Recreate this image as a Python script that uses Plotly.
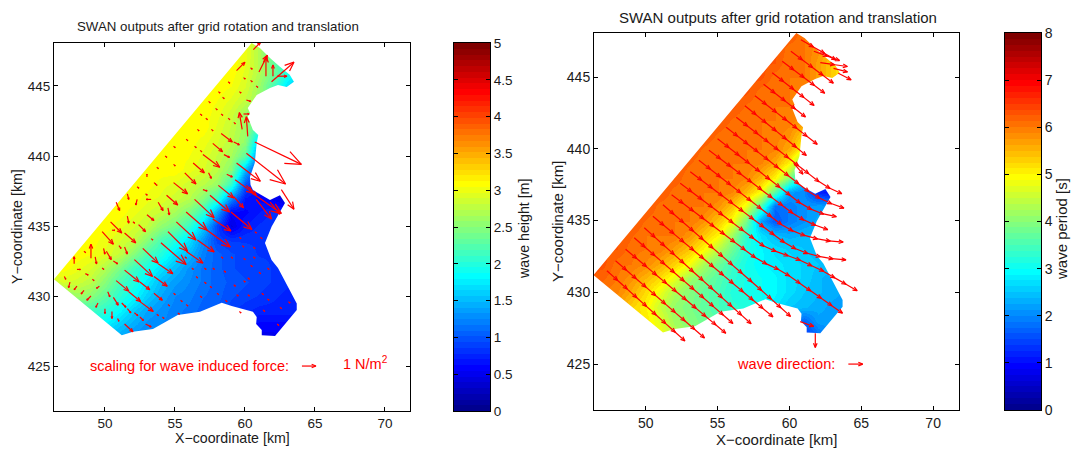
import math
import plotly.graph_objects as go

FONT = "Liberation Sans"
W, H_PX = 1073, 450

GRID_X = list(range(46, 67))
GRID_Y = list(range(448, 426, -1))

# Significant wave height [m], rows y=448..427, columns x=46..66
WAVE_HEIGHT = [
    [3.1]*14 + [3.0,2.7,2.2,2.2,2.2,2.2,2.2],
    [3.1]*14 + [3.0,2.7,2.3,2.0,2.0,2.0,2.0],
    [3.1]*14 + [2.95,2.7,2.4,2.0,1.8,1.8,1.8],
    [3.1]*13 + [3.05,2.9,2.6,2.2,1.7,1.4,1.4,1.4],
    [3.1]*12 + [3.05,2.95,2.8,2.6,2.2,1.8,1.6,1.6,1.6],
    [3.1]*12 + [3.0,2.85,2.6,2.2,1.8,1.6,1.5,1.5,1.5],
    [3.1]*12 + [2.95,2.8,2.6,2.1,1.5,1.2,1.2,1.2,1.2],
    [3.1]*11 + [3.0,2.9,2.75,2.55,1.6,1.0,0.9,0.9,0.9,0.9],
    [3.1]*10 + [3.05,2.95,2.8,2.65,2.3,1.1,0.8,0.7,0.7,0.7,0.7],
    [3.1]*10 + [3.0,2.9,2.75,2.5,1.5,0.7,0.6,0.6,0.6,0.6,0.6],
    [3.1]*8 + [3.0,2.95,2.85,2.75,2.6,2.1,1.0,0.6,0.6,0.5,0.5,0.5,0.5],
    [3.1]*7 + [3.0,2.95,2.85,2.75,2.5,2.1,1.3,0.7,0.6,0.5,0.4,0.4,0.4,0.4],
    [3.1]*6 + [3.0,2.9,2.8,2.65,2.45,2.1,1.4,0.6,0.6,0.7,0.8,0.7,0.7,0.7,0.7],
    [3.1]*5 + [3.0,2.9,2.8,2.55,2.4,2.1,1.6,0.9,0.45,0.7,0.8,0.85,0.85,0.85,0.85,0.85],
    [3.1]*4 + [3.0,2.9,2.8,2.5,2.2,2.0,1.7,1.3,0.9,0.85,0.85,0.85,0.85,0.85,0.85,0.85,0.85],
    [3.1]*3 + [3.05,2.95,2.8,2.5,2.2,2.0,1.7,1.5,1.2,1.05,0.95,0.9,0.85,0.85,0.8,0.8,0.8,0.8],
    [3.1]*2 + [3.0,2.9,2.7,2.45,2.15,1.95,1.7,1.5,1.3,1.15,1.05,0.95,0.9,0.9,0.85,0.8,0.8,0.8,0.8],
    [2.8,2.9,2.85,2.75,2.5,2.2,2,1.75,1.5,1.35,1.25,1.15,1.05,1.0,0.95,0.9,0.85,0.8,0.8,0.8,0.8],
    [2.5,2.5,2.6,2.5,2.3,2.05,1.85,1.6,1.4,1.25,1.2,1.1,1.05,0.95,0.9,0.85,0.8,0.75,0.75,0.75,0.75],
    [2.1,2.1,2.1,2.15,2.05,1.85,1.6,1.4,1.3,1.2,1.15,1.05,1,0.9,0.8,0.75,0.75,0.75,0.75,0.75,0.75],
    [1.8,1.8,1.8,1.8,1.8,1.6,1.45,1.3,1.25,1.2,1.1,1.0,0.95,0.8,0.65,0.6,0.6,0.6,0.6,0.6,0.6],
    [1.4]*6 + [1.25,1.2,1.15,1.1,1.05,1,0.9,0.8,0.6,0.5,0.5,0.6,0.6,0.6,0.6],
]

# Wave period [s], same grid
WAVE_PERIOD = [
    [6.3]*14 + [6.3,6.0,5.9,5.9,5.9,5.9,5.9],
    [6.3]*13 + [6.3,6.05,6.0,5.8,5.5,5.3,5.3,5.3],
    [6.3]*13 + [6.25,6.0,6.0,5.7,5.3,5.1,5.1,5.1],
    [6.3]*12 + [6.3,6.05,6.0,6,5.7,5.3,5,5,5],
    [6.3]*11 + [6.3,6.05,6.0,6.0,5.9,5.7,5.7,5.7,5.7,5.7],
    [6.3]*10 + [6.3,6.1,6.0,6.0,6,5.8,5.8,5.8,5.8,5.8,5.8],
    [6.3]*9 + [6.3,6.1,6.0,6.0,6,5.95,5.8,5.8,5.8,5.8,5.8,5.8],
    [6.3]*8 + [6.3,6.1,6.0,6.0,6.0,5.95,5.8,5.3,4.8,4.8,4.8,4.8,4.8],
    [6.3]*7 + [6.3,6.1,6.0,6.0,6.0,6,5.9,5.6,4.9,4.3,4.3,4.3,4.3,4.3],
    [6.3]*7 + [6.15,6.0,6.0,6.0,6,5.9,5.6,5,3.8,3,3,3,3,3],
    [6.3]*6 + [6.25,6.0,6.0,6.0,6,5.9,5.5,5,4,2.5,2.2,1.5,1.2,1.2,1.2],
    [6.3]*5 + [6.3,6.05,6.0,6.0,6,5.9,5.5,4.9,3.6,2.2,2,1.2,1.0,1.0,1.0,1.0],
    [6.3]*4 + [6.3,6.05,6.0,6.0,6,5.8,5.4,4.8,3.5,1.8,1.9,2.1,2.2,2.2,2.2,2.2,2.2],
    [6.3]*3 + [6.3,6.1,6.0,6.0,6,5.8,5.4,4.9,3.9,2.2,1.6,1.9,2.1,2.3,2.3,2.3,2.3,2.3],
    [6.3]*3 + [6.15,6.0,6.0,6,5.8,5.4,5,4.2,3.3,2.7,2.4,2.3,2.4,2.4,2.4,2.4,2.4,2.4],
    [6.3]*2 + [6.25,6.05,6.0,5.95,5.7,5.4,5,4.4,3.8,3.2,2.9,2.7,2.6,2.5,2.4,2.4,2.4,2.4,2.4],
    [6.3,6.3,6.05,6,5.85,5.6,5.3,4.9,4.3,3.8,3.4,3.1,2.9,2.8,2.7,2.6,2.5,2.4,2.4,2.4,2.4],
    [6.3,6.15,6.0,5.8,5.5,5.2,4.8,4.2,3.9,3.6,3.3,3.1,3,2.9,2.7,2.6,2.4,2.3,2.3,2.3,2.3],
    [6,6,5.9,5.6,5.2,4.8,4.3,4,3.7,3.5,3.2,3.1,3,2.9,2.7,2.5,2.4,2.3,2.2,2.2,2.2],
    [5.7,5.7,5.7,5.3,5,4.5,4.1,3.9,3.7,3.5,3.3,3.2,3,2.8,2.5,2.4,2.3,2.2,2.2,2.2,2.2],
    [5.2,5.2,5.2,5.2,5.1,4.7,4.2,4,3.8,3.6,3.4,3.2,3,2.7,2.3,1.7,2.2,2.2,2.2,2.2,2.2],
    [5,5,5,5,5,4.9,4.4,4.1,3.9,3.7,3.4,3.2,3,2.7,2.2,1.3,1.8,2.2,2.2,2.2,2.2],
]

# Model domain outline, from the north corner clockwise round the coast to the west corner
COAST_X = [60.48,61.07,61.79,62.5,63.2,63.5,62.98,62.36,61.79,60.84,60.2,60.36,60.2,60.57,60.95,60.84,60.7,60.36,60.4,60.57,61.79,62.5,62.86,61.9,61.43,61.9,62.36,63.07,63.7,63.7,62.15,61.2,61.2,60.8,60.84,60.57,59.05,58.34,56.79,55.2,53.43,52.0,51.2,46.36]
COAST_Y = [448.07,447.71,447.0,446.38,445.8,445.3,444.93,445.07,444.86,444.36,443.43,443.07,442.8,441.86,441.5,440.93,439.5,438.5,437.93,437.57,436.86,437.2,436.64,434.95,433.78,432.57,432.0,430.66,429.47,429.0,427.14,427.2,427.57,428.0,428.5,428.88,429.28,429.52,428.88,428.64,427.64,427.45,427.2,431.2]

# Wave induced force arrows: tail x, tail y, u, v
FORCE = [
 (60.7,441.0,3.33,-1.6),(60.1,440.2,2.8,-2.2),(59.4,439.5,1.7,-1.3),(61.9,445.3,1.6,1.4),(62.3,445.7,0.7,0),
 (61,446,0.6,1.2),(61.5,445.7,0,1.4),(62,445.7,0,0.8),(59.4,446.1,0.6,0.6),(60.6,447.6,0.5,0.5),
 (59.8,441.9,-0.2,1.2),(60.2,441.4,-0.1,1.4),(59.9,443,0.4,0),(60.1,444,0.3,-0.1),(58.3,441.6,0.8,-0.6),
 (59.2,441,0.4,-0.2),(57.7,440.9,0.7,-0.6),(57,440.1,1.2,-0.9),(58.5,440.1,0.4,-0.2),(56.3,439.5,0.8,-0.7),
 (57.4,438.8,0.2,-0.4),(55.7,438.8,0.8,-0.8),(58.7,438.7,0.4,-0.2),(53,438.5,0,0.2),(54.9,438.1,1,-0.8),
 (58.1,437.9,1.1,-0.9),(57,437.6,0.3,-0.1),(54.4,437.2,0.8,-0.7),(51.6,437.3,0.1,-0.4),(52.3,436.9,-0.1,-0.4),
 (50.8,436.7,0.25,-0.6),(53.3,436.9,-0.35,0),(53.8,436.7,0.35,-0.6),(54.5,436.3,0.1,-0.5),(53,435.8,0.5,-0.4),
 (51.6,435.7,0.1,-0.5),(52.4,435.1,0.5,-0.5),(50.4,435.3,0.8,-0.8),(50.5,434.7,0.2,0),(49.8,434.6,0.8,-0.9),
 (51.4,434.5,0.8,-0.7),(51,433.6,0.15,-0.2),(49,432.7,0,1),(47.8,432.3,0,0.5),(49.3,432.8,0.1,-0.5),
 (49.9,433.4,0.1,-0.4),(50.1,433.2,0.35,-0.6),(51.4,433.5,0.2,-0.5),(50.6,432.5,0.3,-0.2),(48,431.9,0.25,0),
 (47.1,431.4,0.1,-0.2),(48.6,431.6,0.2,-0.1),(47.5,431,-0.1,-0.4),(48,430.7,-0.2,-0.25),(48.5,430.4,-0.2,-0.25),
 (49.6,430.7,-0.2,-0.15),(49,430,-0.3,-0.3),(49.5,429.5,-0.15,-0.3),(50.2,430.3,0.15,-0.35),(50.6,429.9,0.35,-0.55),
 (50,429.1,0,-0.35),(50.5,428.9,0,-0.5),(51.2,429.5,0.3,-0.3),(51.6,429.1,0.25,-0.3),(52.1,428.8,0.25,-0.2),
 (52.5,428.5,0.25,-0.25),(50.9,428.4,0.1,-0.2),(51.4,428,0.6,-0.55),(52.9,428,0.4,-0.2),
 (50.8,431.1,0.9,-0.75),(51.7,430.3,0.85,-0.7),(52.5,429.6,0.95,-0.7),(51.4,431.85,1.05,-0.85),(52.5,431,0.7,-0.55),
 (53.5,430.2,0.6,-0.5),(52.1,432.6,1.3,-1.2),(53.5,431.4,0.95,-0.7),(52.7,433.4,1.1,-1.05),(53.8,432.3,1.05,-0.7),
 (54,433.8,1.8,-1.55),(54.5,434.6,1.4,-1.4),(55.8,433.2,1.2,-0.85),(55.1,435.3,1.4,-1.3),(56.6,434,1.2,-0.85),
 (55.8,436,1.5,-1.3),(57.3,434.7,1.65,-1.2),(56.4,436.9,1.4,-1.3),(57.7,435.5,1.3,-0.85),(57.5,437.2,1.4,-1.2),
 (59,436,1.5,-1.25),(59.3,438.3,1.3,-0.95),(60.6,437.3,2,-1.4),(59.2,437.1,0.7,-0.8),(60.8,436.9,1.1,-1.4),
 (62.6,437.6,0.9,-1.4),(61.8,436.7,0.7,-0.85),(60.1,437.9,0.7,-0.7),
 (64.07,425.0,1.0,0),
]
# Very small force arrows: tail positions
TINY_X = [60.4,59.9,60.4,60.8,58.8,59.6,58.1,58.4,57.4,57.9,56.8,57.2,58.3,58.8,59.2,56.6,57.6,55.8,56.4,54.9,54.3,56.8,53.7,54.9,53.6,52.3,53.5,52.9,52,53.3,48.5,49.8,49.1,55.7,56.2,57.1,57.7,58.5,58.3,59.9,60.6,60.6,59.6,60.7,61.1,56.5,57.1,57.5,58,58.6,54.9,55.4,55.8,54.5,55.2,53.7,54.1,56.8,59.2,59.9,60.2,61,60.4,61.6,59.4,60.2,61.2,61.6,62.5,63.1,59.6,61.3,62.3,59.8,59]
TINY_Y = [446.3,445.6,445.4,445,445.3,444.6,444.6,444.2,443.9,443.4,443,442.7,443,442.7,442.4,441.9,441.9,441.2,440.7,440.7,440,440.4,439.2,439.4,438,437.8,438.1,437.3,435.3,434.1,433.2,432,431.2,432.8,432,432,432,431.8,432.8,432.7,432.8,433.5,434.2,434.6,434.2,431.4,431,430.7,430.2,429.7,430.2,429.7,429.4,429.4,428.8,428.7,428.5,430,430.8,431.1,431.3,431.7,432.2,432,430.1,430.1,430.2,429.8,429.2,429.6,428.9,429,428,433.6,432.8]
TINY_U, TINY_V = 0.12, -0.1

# Wave direction rows: start of each row and the direction (degrees) of its successive arrows
DIR_X0 = [60.8,60.1,59.5,58.8,58.2,57.6,56.9,56.3,55.6,55.0,54.4,53.7,53.1,52.4,51.8,51.2,50.5,49.9,49.2,48.6,47.9,47.3, 61.7,62.15,63.07,63.4,60.3,61.8,60.75,64.1]
DIR_Y0 = [447.6,446.8,446.1,445.3,444.5,443.7,443.0,442.2,441.5,440.7,439.9,439.2,438.4,437.6,436.8,436.1,435.3,434.5,433.8,433.0,432.2,431.5, 446.8,446.0,445.6,445.26,439.0,427.15,427.96,425.0]
DIR_ANGLES = [
 [-30,-30,-30],
 [-37,-37,-37,-37],
 [-37,-37,-37,-37],
 [-38,-38,-38,-38],
 [-38,-38,-38,-38],
 [-38,-38,-38,-38,-38,-38],
 [-39,-39,-39,-39,-39,-39],
 [-38,-38,-38,-38,-38,-38,-38,-38,-32,-25],
 [-38,-38,-38,-38,-38,-38,-38,-38,-32,-25,-20],
 [-38,-38,-38,-38,-38,-38,-38,-38,-30,-22,-12],
 [-37,-37,-37,-37,-37,-37,-37,-37,-32,-25,-20],
 [-38,-38,-38,-38,-38,-38,-38,-38,-30,-22,-15,-10,-5],
 [-37,-37,-37,-37,-37,-37,-37,-37,-37,-30,-22,-15,-10,-5],
 [-37,-37,-37,-37,-37,-37,-37,-37,-25,-20,-20,-25,-25,-30,-30,-30],
 [-37,-37,-37,-37,-37,-37,-37,-37,-30,-25,-30,-35,-35,-35,-35,-35],
 [-41,-41,-41,-41,-41,-41,-41,-41,-41,-41,-42,-42,-42],
 [-40,-40,-40,-40,-40,-40,-40,-40,-40,-40,-40,-40],
 [-42,-42,-42,-42,-42,-42,-42,-42,-42,-42,-42],
 [-41,-41,-41,-41,-41,-41,-41,-41,-41,-41],
 [-40,-40,-40,-40,-40,-40,-40,-40,-40,-40],
 [-41,-41,-41,-41,-41,-41,-41,-41,-41],
 [-42,-42,-42,-42,-42,-42,-42,-42],
 [-20,-20],
 [-8,-8],
 [-14],
 [-27],
 [-50],
 [-90],
 [-20],
 [0],
]
DIR_STEP = 0.9
DIR_LEN = 1.0

TITLE = "SWAN outputs after grid rotation and translation"
X_TITLE = "X\u2212coordinate [km]"
Y_TITLE = "Y\u2212coordinate [km]"
X_TICKS = [50, 55, 60, 65, 70]
Y_TICKS = [425, 430, 435, 440, 445]
H_TICKS = [0, 0.5, 1, 1.5, 2, 2.5, 3, 3.5, 4, 4.5, 5]
T_TICKS = [0, 1, 2, 3, 4, 5, 6, 7, 8]
XR, YR = [46.36, 71.79], [421.79, 448.07]


def jet(n=64):
    out = []
    for i in range(n):
        t = (i + 1) / n
        r = min(max(min(4 * t - 1.5, -4 * t + 4.5), 0), 1)
        g = min(max(min(4 * t - 0.5, -4 * t + 3.5), 0), 1)
        b = min(max(min(4 * t + 0.5, -4 * t + 2.5), 0), 1)
        out.append("rgb(%d,%d,%d)" % (round(r * 255), round(g * 255), round(b * 255)))
    return out


JET = jet()
SCALE = []
for i, c in enumerate(JET):
    SCALE += [[i / 64, c], [(i + 1) / 64, c]]


def arrow_paths(arrows):
    xs, ys = [], []
    for x, y, u, v in arrows:
        L = math.hypot(u, v)
        if L == 0:
            continue
        tx, ty = x + u, y + v
        a = math.atan2(v, u)
        hl = L * 0.33
        xs += [x, tx, None]
        ys += [y, ty, None]
        xs += [tx + hl * math.cos(a + 2.75), tx, tx + hl * math.cos(a - 2.75), None]
        ys += [ty + hl * math.sin(a + 2.75), ty, ty + hl * math.sin(a - 2.75), None]
    return xs, ys


def direction_arrows():
    out = []
    for x, y, angs in zip(DIR_X0, DIR_Y0, DIR_ANGLES):
        for ang in angs:
            r = math.radians(ang)
            out.append((x, y, DIR_LEN * math.cos(r), DIR_LEN * math.sin(r)))
            x += DIR_STEP * math.cos(r)
            y += DIR_STEP * math.sin(r)
    return out


def mask_paths():
    mx = [XR[0], XR[0], COAST_X[0], XR[0], None, COAST_X[0], XR[1], XR[1], XR[0]] + [XR[0]] + COAST_X[::-1]
    my = [COAST_Y[-1], YR[1], YR[1], COAST_Y[-1], None, YR[1], YR[1], YR[0], YR[0]] + [COAST_Y[-1]] + COAST_Y[::-1]
    return mx, my


def dom(a, b, total):
    return [a / total, b / total]


def ydom(top, bottom):
    return [1 - bottom / H_PX, 1 - top / H_PX]


force = list(FORCE) + [(x, y, TINY_U, TINY_V) for x, y in zip(TINY_X, TINY_Y)]
fx, fy = arrow_paths(force)
dx, dy = arrow_paths(direction_arrows())
mx, my = mask_paths()
RED = "rgb(255,0,0)"
INK = "#1a1a1a"

fig = go.Figure()

for z, zmax, ax in [(WAVE_HEIGHT, 5, ""), (WAVE_PERIOD, 8, "2")]:
    fig.add_trace(go.Heatmap(x=GRID_X, y=GRID_Y, z=z, zmin=0, zmax=zmax, colorscale=SCALE, zsmooth="best",
                             showscale=False, hoverinfo="skip", xaxis="x" + ax, yaxis="y" + ax))
    fig.add_trace(go.Scatter(x=mx, y=my, mode="lines", fill="toself", fillcolor="white", line=dict(width=0),
                             hoverinfo="skip", showlegend=False, xaxis="x" + ax, yaxis="y" + ax))

fig.add_trace(go.Scatter(x=fx, y=fy, mode="lines", line=dict(color=RED, width=1.2), hoverinfo="skip",
                         showlegend=False, xaxis="x", yaxis="y"))
fig.add_trace(go.Scatter(x=dx, y=dy, mode="lines", line=dict(color=RED, width=1.2), hoverinfo="skip",
                         showlegend=False, xaxis="x2", yaxis="y2"))

for zmax, ax in [(5, "3"), (8, "4")]:
    lv = [(i + 0.5) * zmax / 64 for i in range(64)]
    fig.add_trace(go.Heatmap(x=[0, 1], y=lv, z=[[v, v] for v in lv], zmin=0, zmax=zmax, colorscale=SCALE,
                             showscale=False, hoverinfo="skip", xaxis="x" + ax, yaxis="y" + ax))


def axis_common(size):
    return dict(showline=True, linecolor="black", linewidth=1, mirror="ticks", ticks="inside", ticklen=4,
                tickcolor="black", showgrid=False, zeroline=False, automargin=False,
                tickfont=dict(family=FONT, size=size, color=INK))


def label(text, px, py, size, angle=0, color=INK):
    return dict(text=text, xref="paper", yref="paper", x=px / W, y=1 - py / H_PX, showarrow=False, xanchor="center",
                yanchor="middle", textangle=angle, font=dict(family=FONT, size=size, color=color))


def cbar_ticks(vals):
    return [("%g" % v) for v in vals]


bar_x = dict(range=[0, 1], showticklabels=False, ticks="", tickvals=[], showline=True, linecolor="black", mirror=True,
             showgrid=False, zeroline=False, automargin=False)

fig.update_layout(
    width=W, height=H_PX, autosize=False, margin=dict(l=0, r=0, t=0, b=0),
    plot_bgcolor="white", paper_bgcolor="white", showlegend=False,
    xaxis=dict(domain=dom(54, 410, W), range=XR, tickvals=X_TICKS, anchor="y", **axis_common(13.5)),
    yaxis=dict(domain=ydom(43, 411), range=YR, tickvals=Y_TICKS, anchor="x", **axis_common(13.5)),
    xaxis2=dict(domain=dom(594, 959, W), range=[46.4, 71.8], tickvals=X_TICKS, anchor="y2", **axis_common(14)),
    yaxis2=dict(domain=ydom(33, 410), range=[421.8, 448.07], tickvals=Y_TICKS, anchor="x2", **axis_common(14)),
    xaxis3=dict(domain=dom(454, 490, W), anchor="y3", **bar_x),
    yaxis3=dict(domain=ydom(43, 411), range=[0, 5], tickvals=H_TICKS, ticktext=cbar_ticks(H_TICKS), anchor="x3",
                side="right", **axis_common(13.5)),
    xaxis4=dict(domain=dom(1005, 1041, W), anchor="y4", **bar_x),
    yaxis4=dict(domain=ydom(33, 410), range=[0, 8], tickvals=T_TICKS, ticktext=cbar_ticks(T_TICKS), anchor="x4",
                side="right", **axis_common(14)),
    annotations=[
        label(TITLE, 218, 26, 13.3),
        label(TITLE, 778, 17, 15),
        label(X_TITLE, 232, 438, 14.2),
        label(X_TITLE, 776, 439, 15),
        label(Y_TITLE, 17, 227, 14.2, -90),
        label(Y_TITLE, 557, 222, 15, -90),
        label("wave height [m]", 524, 229, 14.2, -90),
        label("wave period [s]", 1062, 229, 15, -90),
        dict(text="scaling for wave induced force:", xref="x", yref="y", x=56.07, y=425, showarrow=False, xanchor="center",
             font=dict(family=FONT, size=14.5, color=RED)),
        dict(text="1 N/m<sup>2</sup>", xref="x", yref="y", x=68.64, y=425.2, showarrow=False, xanchor="center",
             font=dict(family=FONT, size=14.5, color=RED)),
        dict(text="wave direction:", xref="x2", yref="y2", x=59.78, y=425, showarrow=False, xanchor="center",
             font=dict(family=FONT, size=14.6, color=RED)),
    ],
)

fig.write_html("out.html", post_script="document.body.style.margin='0';document.body.style.overflow='hidden';",
               config={"displayModeBar": False})
